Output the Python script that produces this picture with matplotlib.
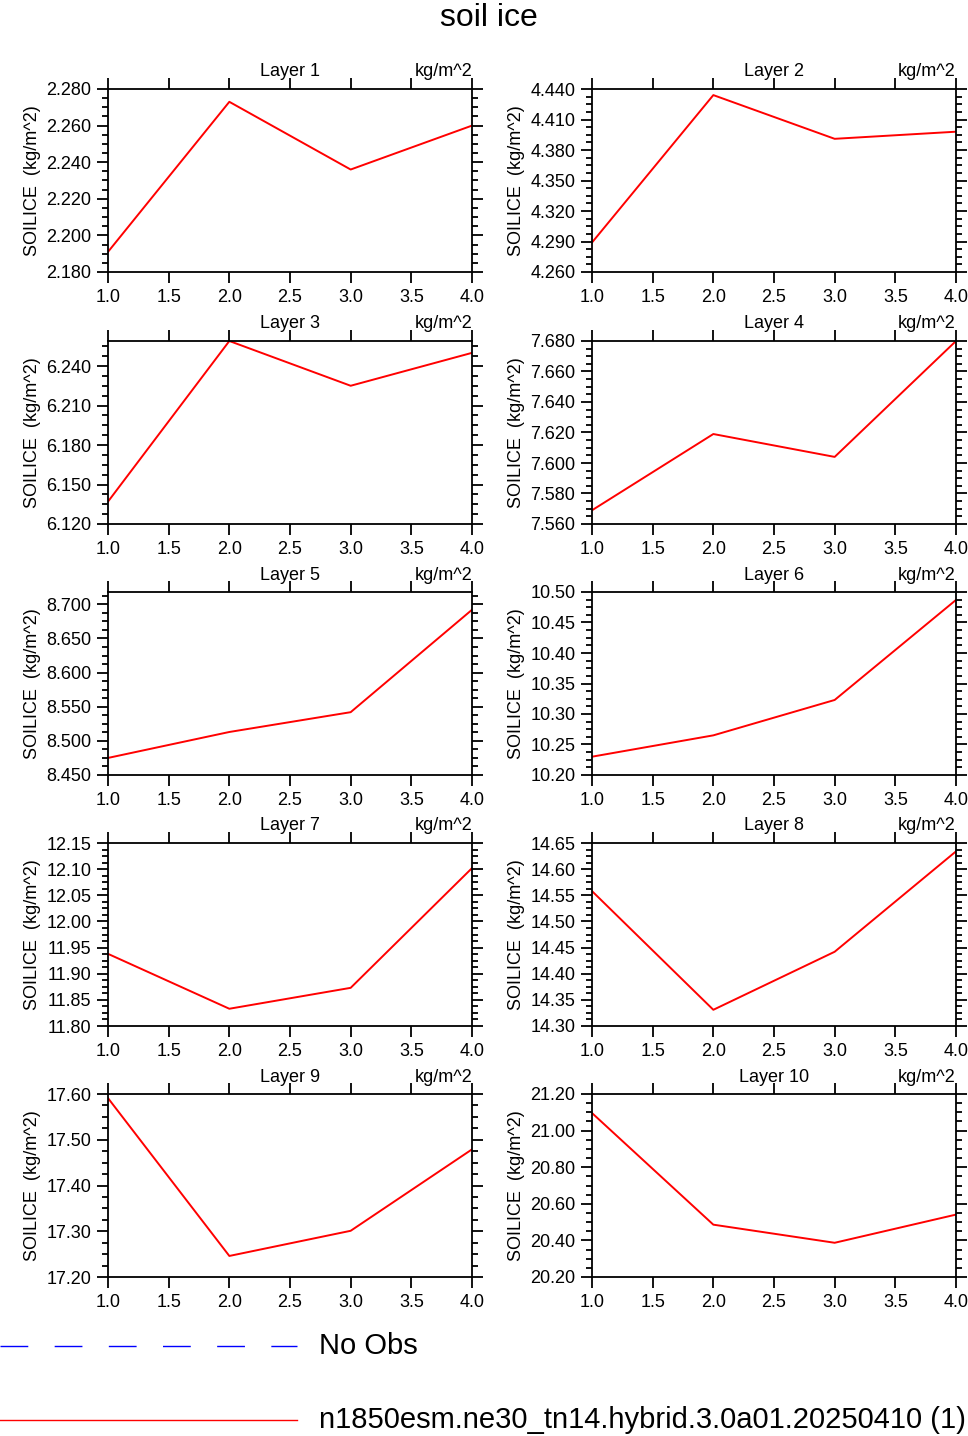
import matplotlib.pyplot as plt
from matplotlib.ticker import MultipleLocator, FormatStrFormatter

plt.rcParams['font.family'] = ['Liberation Sans', 'DejaVu Sans']

years = [1.0, 2.0, 3.0, 4.0]
layers = ["Layer 1", "Layer 2", "Layer 3", "Layer 4", "Layer 5",
          "Layer 6", "Layer 7", "Layer 8", "Layer 9", "Layer 10"]
values = [
    [2.191, 2.273, 2.236, 2.260],
    [4.289, 4.434, 4.391, 4.398],
    [6.137, 6.259, 6.225, 6.250],
    [7.569, 7.619, 7.604, 7.680],
    [8.475, 8.513, 8.542, 8.692],
    [10.230, 10.265, 10.323, 10.487],
    [11.938, 11.833, 11.873, 12.102],
    [14.558, 14.331, 14.442, 14.634],
    [17.591, 17.246, 17.301, 17.479],
    [21.096, 20.486, 20.387, 20.541],
]
ylims = [(2.180, 2.280), (4.260, 4.440), (6.120, 6.259), (7.560, 7.680),
         (8.450, 8.718), (10.20, 10.50), (11.80, 12.15), (14.30, 14.65),
         (17.20, 17.60), (20.20, 21.20)]
ysteps = [0.02, 0.03, 0.03, 0.02, 0.05, 0.05, 0.05, 0.05, 0.1, 0.2]
yfmt = ["%.3f"] * 5 + ["%.2f"] * 5

W, H = 968, 1436
fig = plt.figure(figsize=(W / 100, H / 100), dpi=100)
fig.text(0.505, 1 - 18 / H, "soil ice", ha="center", va="center", fontsize=23)

lefts = [108, 592]
tops = [89, 341, 592, 843, 1094]
aw, ah = 364, 183
for i in range(10):
    r, c = divmod(i, 2)
    ax = fig.add_axes([lefts[c] / W, 1 - (tops[r] + ah) / H, aw / W, ah / H])
    ax.plot(years, values[i], color="red", lw=1.4)
    ax.set_xlim(1, 4)
    ax.set_ylim(*ylims[i])
    ax.xaxis.set_major_locator(MultipleLocator(0.5))
    ax.yaxis.set_major_locator(MultipleLocator(ysteps[i]))
    ax.yaxis.set_minor_locator(MultipleLocator(ysteps[i] / 4))
    ax.xaxis.set_major_formatter(FormatStrFormatter("%.1f"))
    ax.yaxis.set_major_formatter(FormatStrFormatter(yfmt[i]))
    ax.tick_params(which="both", direction="out", top=True, right=True,
                   labelsize=13, width=1.3)
    ax.tick_params(which="major", length=8, pad=4)
    ax.tick_params(which="minor", length=4)
    for s in ax.spines.values():
        s.set_linewidth(1.3)
    ax.set_ylabel("SOILICE  (kg/m^2)", fontsize=13, labelpad=4)
    ax.set_title(layers[i], fontsize=13, pad=9)
    ax.set_title("kg/m^2", loc="right", fontsize=13, pad=9)

# legend
lax = fig.add_axes([0, 0, 1, 1], facecolor="none")
lax.set_xlim(0, W)
lax.set_ylim(H, 0)
lax.axis("off")
lax.plot([0, 297], [1346, 1346], color="blue", lw=1, dashes=(20, 19))
lax.text(319, 1346, "No Obs", fontsize=21, va="center")
lax.plot([0, 297], [1420, 1420], color="red", lw=1)
lax.text(319, 1420, "n1850esm.ne30_tn14.hybrid.3.0a01.20250410 (1)", fontsize=21, va="center")

fig.savefig("out.png", dpi=100)
